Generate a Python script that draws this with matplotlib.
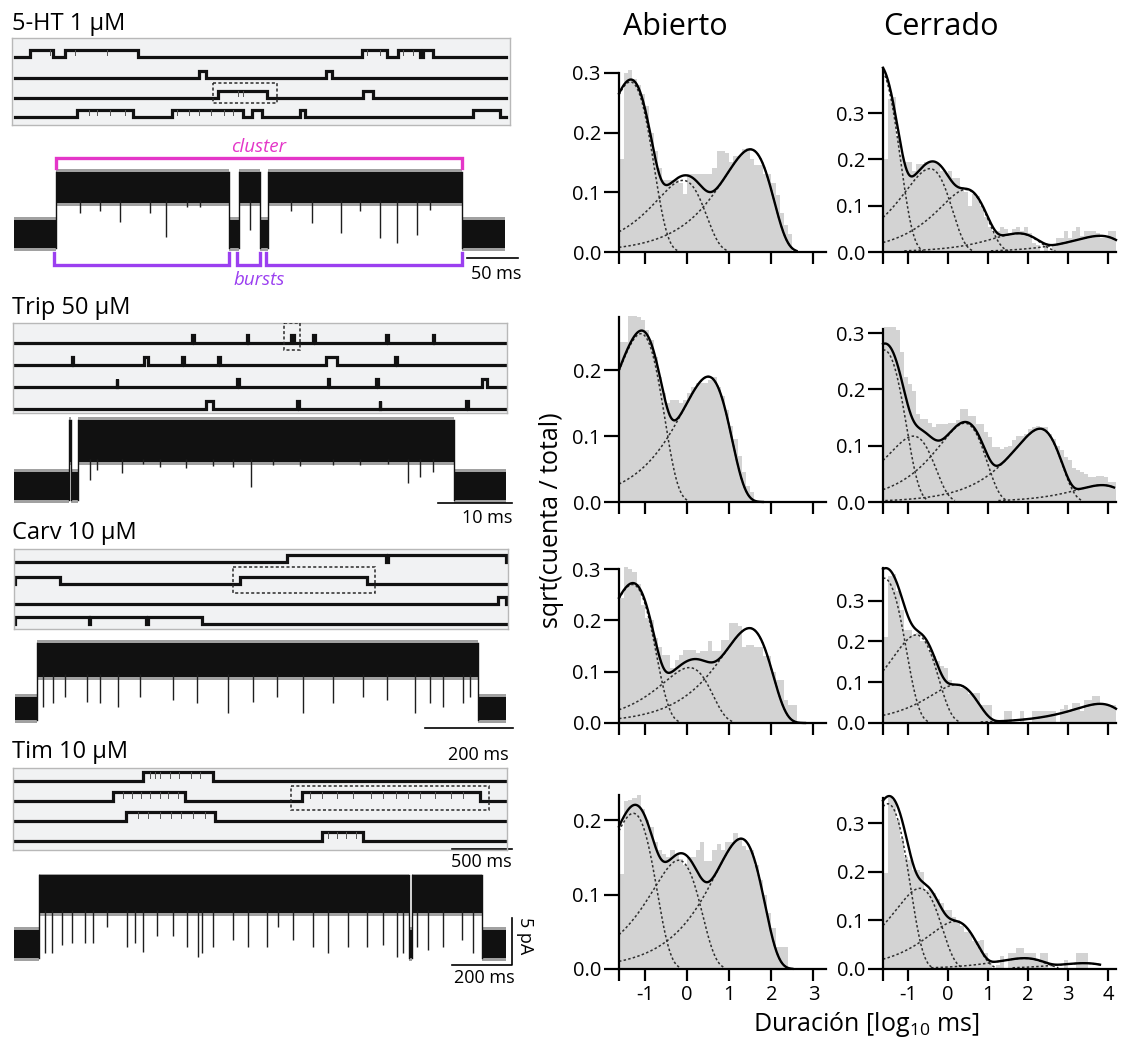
import numpy as np
import matplotlib
matplotlib.use("Agg")
import matplotlib.pyplot as plt
from matplotlib.patches import Rectangle

plt.rcParams["font.family"] = ["Open Sans", "DejaVu Sans"]
plt.rcParams["mathtext.fontset"] = "custom"
plt.rcParams["mathtext.rm"] = "Open Sans"
plt.rcParams["mathtext.it"] = "Open Sans:italic"

# ---------------------------------------------------------------------------
# Dwell-time histograms: sqrt(count / total), 0.1 log10(ms) bins from -1.6
# ---------------------------------------------------------------------------
BIN0 = -1.6
BIN_W = 0.1

open_5ht = [0.155, 0.30, 0.305, 0.29, 0.28, 0.265, 0.245, 0.20, 0.17, 0.14,
            0.12, 0.12, 0.12, 0.12, 0.115, 0.097, 0.13, 0.13, 0.13, 0.13,
            0.13, 0.13, 0.14, 0.17, 0.17, 0.165, 0.15, 0.16, 0.16, 0.172,
            0.175, 0.155, 0.145, 0.145, 0.13, 0.13, 0.115, 0.095, 0.065, 0.045,
            0.03]
closed_5ht = [0.20, 0.33, 0.335, 0.25, 0.21, 0.195, 0.195, 0.175, 0.19, 0.19,
              0.195, 0.195, 0.195, 0.19, 0.175, 0.17, 0.175, 0.16, 0.16, 0.14,
              0.13, 0.10, 0.125, 0.12, 0.10, 0.075, 0.055, 0.04, 0.045, 0.055,
              0.05, 0.04, 0.05, 0.055, 0.045, 0.055, 0.04, 0.02, 0.015, 0.0,
              0.02, 0.0, 0.015, 0.03, 0.03, 0.045, 0.03, 0.045, 0.055, 0.035,
              0.045, 0.045, 0.045, 0.04, 0.03, 0.03, 0.045, 0.045]
open_trip = [0.243, 0.243, 0.282, 0.282, 0.28, 0.276, 0.26, 0.245, 0.22, 0.19,
             0.165, 0.15, 0.155, 0.155, 0.15, 0.155, 0.165, 0.175, 0.18, 0.18,
             0.18, 0.185, 0.19, 0.175, 0.16, 0.14, 0.115, 0.095, 0.07, 0.045,
             0.025, 0.015]
closed_trip = [0.31, 0.31, 0.31, 0.305, 0.266, 0.222, 0.21, 0.198, 0.157, 0.148,
               0.148, 0.14, 0.133, 0.139, 0.139, 0.139, 0.14, 0.14, 0.145, 0.166,
               0.166, 0.152, 0.152, 0.139, 0.139, 0.125, 0.115, 0.098, 0.098, 0.095,
               0.098, 0.10, 0.11, 0.118, 0.118, 0.12, 0.13, 0.133, 0.135, 0.133,
               0.133, 0.12, 0.112, 0.10, 0.092, 0.08, 0.074, 0.06, 0.056, 0.053,
               0.05, 0.044, 0.044, 0.047, 0.047, 0.045, 0.035, 0.035]
open_carv = [0.243, 0.305, 0.30, 0.295, 0.27, 0.23, 0.204, 0.2, 0.165, 0.149,
             0.133, 0.133, 0.107, 0.123, 0.133, 0.143, 0.143, 0.143, 0.136, 0.14,
             0.14, 0.159, 0.14, 0.14, 0.162, 0.162, 0.195, 0.195, 0.19, 0.149,
             0.152, 0.152, 0.149, 0.149, 0.13, 0.13, 0.1, 0.084, 0.084, 0.045,
             0.036, 0.036]
closed_carv = [0.212, 0.36, 0.364, 0.323, 0.278, 0.229, 0.229, 0.216, 0.22, 0.2,
               0.2, 0.18, 0.165, 0.151, 0.139, 0.135, 0.106, 0.09, 0.09, 0.086,
               0.086, 0.07, 0.074, 0.074, 0.045, 0.045, 0.045, 0.0, 0.0, 0.0,
               0.029, 0.029, 0.0, 0.0, 0.029, 0.0, 0.0, 0.029, 0.029, 0.029,
               0.029, 0.029, 0.029, 0.0, 0.035, 0.043, 0.03, 0.049, 0.049, 0.03,
               0.057, 0.057, 0.065, 0.065, 0.045, 0.043, 0.043, 0.043]
open_tim = [0.128, 0.225, 0.227, 0.23, 0.234, 0.215, 0.2, 0.19, 0.17, 0.16,
            0.155, 0.15, 0.16, 0.155, 0.148, 0.14, 0.15, 0.15, 0.16, 0.17,
            0.145, 0.145, 0.16, 0.168, 0.16, 0.17, 0.17, 0.183, 0.175, 0.165,
            0.16, 0.16, 0.14, 0.12, 0.1, 0.075, 0.055, 0.03, 0.03, 0.03]
closed_tim = [0.197, 0.351, 0.348, 0.307, 0.27, 0.23, 0.225, 0.204, 0.204, 0.2,
              0.163, 0.163, 0.156, 0.145, 0.136, 0.122, 0.122, 0.108, 0.1, 0.088,
              0.077, 0.077, 0.057, 0.057, 0.06, 0.033, 0.019, 0.0, 0.009, 0.026,
              0.0, 0.033, 0.033, 0.043, 0.043, 0.033, 0.033, 0.033, 0.019, 0.033,
              0.033, 0.0, 0.0, 0.0, 0.0, 0.019, 0.0, 0.0, 0.033, 0.033,
              0.033, 0.0, 0.0, 0.0, 0.0, 0.0, 0.0, 0.0]

# Fitted exponential components: (log10 tau [ms], peak height on the sqrt scale)
fit_open_5ht = [(-1.35, 0.285), (-0.1, 0.12), (1.5, 0.172)]
fit_closed_5ht = [(-1.75, 0.40), (-0.45, 0.18), (0.45, 0.135), (1.75, 0.04), (3.8, 0.035)]
fit_open_trip = [(-1.1, 0.255), (0.5, 0.19)]
fit_closed_trip = [(-1.6, 0.27), (-0.86, 0.117), (0.42, 0.14), (2.3, 0.13), (3.85, 0.03)]
fit_open_carv = [(-1.3, 0.27), (0.05, 0.108), (1.48, 0.185)]
fit_closed_carv = [(-1.6, 0.355), (-0.79, 0.216), (0.21, 0.094), (3.8, 0.047)]
fit_open_tim = [(-1.28, 0.209), (-0.2, 0.146), (1.28, 0.175)]
fit_closed_tim = [(-1.5, 0.34), (-0.7, 0.166), (0.18, 0.098), (1.9, 0.022), (3.4, 0.012)]

# ---------------------------------------------------------------------------
# Overview sweeps (4 s each): open intervals [s] per sweep
# ---------------------------------------------------------------------------
SWEEP_S = 4.0
ht_sweeps = [[(0.122, 0.31), (0.407, 1.002), (2.827, 3.031), (3.12, 3.30), (3.324, 3.405)],
             [(1.499, 1.556), (2.534, 2.583)],
             [(1.654, 2.053), (2.835, 2.917)],
             [(0.505, 0.961), (1.279, 1.858), (1.931, 2.012), (2.322, 2.363), (3.731, 3.951)]]
trip_sweeps = [[(1.44, 1.46), (1.89, 1.90), (2.25, 2.27), (2.43, 2.44), (3.025, 3.035), (3.405, 3.415)],
               [(0.467, 0.474), (1.048, 1.08), (1.364, 1.376), (1.652, 1.672), (2.53, 2.62), (3.094, 3.114)],
               [(0.827, 0.833), (1.807, 1.827), (2.553, 2.562), (2.939, 2.959), (3.808, 3.842)],
               [(1.56, 1.61), (2.296, 2.316), (2.972, 2.977), (3.673, 3.693)]]
carv_sweeps = [[(2.216, 3.025), (3.04, 4.0)],
               [(0.0, 0.367), (1.833, 2.868)],
               [(3.935, 4.0)],
               [(0.0, 0.605), (0.615, 1.07), (1.08, 1.523)]]
tim_sweeps = [[(1.043, 1.613)],
              [(0.798, 1.385), (2.338, 3.788)],
              [(0.904, 1.629)],
              [(2.501, 2.835)]]
# brief closures inside openings: (sweep, time [s])
ht_sweep_flick = [(0, 0.285), (0, 0.49), (0, 0.75), (0, 2.87), (0, 2.97), (0, 3.16), (0, 3.24),
                  (2, 1.82), (2, 1.86), (3, 0.6), (3, 0.67), (3, 0.77), (3, 0.9),
                  (3, 1.32), (3, 1.42), (3, 1.5), (3, 1.6), (3, 1.7), (3, 1.78)]
tim_sweep_flick = [(0, 1.1), (0, 1.14), (0, 1.18), (0, 1.26), (0, 1.34), (0, 1.43), (0, 1.51),
                   (1, 0.88), (1, 0.95), (1, 1.03), (1, 1.1), (1, 1.18), (1, 1.25), (1, 1.33),
                   (1, 2.4), (1, 2.5), (1, 2.62), (1, 2.75), (1, 2.9), (1, 3.0), (1, 3.1),
                   (1, 3.2), (1, 3.3), (1, 3.42), (1, 3.55), (1, 3.65),
                   (2, 1.0), (2, 1.08), (2, 1.18), (2, 1.27), (2, 1.35), (2, 1.45), (2, 1.55),
                   (3, 2.55), (3, 2.62), (3, 2.7), (3, 2.78)]
# expanded stretch marked on each overview: (sweep, start s, end s)
ht_window = (2, 1.613, 2.134)
trip_window = (0, 2.19, 2.32)
carv_window = (1, 1.776, 2.933)
tim_window = (1, 2.249, 3.862)

# ---------------------------------------------------------------------------
# Expanded traces: duration [ms], open intervals [ms], unitary amplitude [pA],
# brief closures (time [ms], lowest current reached [pA])
# ---------------------------------------------------------------------------
ht_dur = 481.0
ht_open = [(41.0, 211.0), (220.0, 241.0), (249.0, 439.0)]
ht_amp = 4.95
ht_flick_t = [65, 84, 104, 133, 149, 169, 182, 231, 271, 292, 320, 339, 359, 375, 395, 408]
ht_flick_i = [2.2, 2.5, 1.3, 2.2, -0.3, 2.9, 2.9, 0.4, 2.5, 1.2, 0.1, 2.5, -0.4, -1.0, -0.1, 2.6]

trip_dur = 66.5
trip_open = [(7.5, 7.75), (8.65, 59.5)]
trip_amp = 4.8
trip_flick_t = [10.3, 11.2, 14.6, 17.5, 19.7, 23.3, 26.9, 29.6, 32.1, 35.0, 38.6, 43.1,
                46.8, 50.6, 53.3, 54.9, 56.7]
trip_flick_i = [0.64, 1.7, 1.35, 2.3, 2.0, 1.9, 2.1, 2.05, -0.07, 2.2, 2.1, 2.2,
                2.2, 2.3, 0.3, 1.0, 1.5]

carv_dur = 1116.0
carv_open = [(50.0, 1052.0)]
carv_amp = 5.15
carv_flick_t = [64, 87, 114, 163, 193, 235, 284, 360, 413, 485, 542, 595, 655, 723, 792,
                845, 909, 943, 973, 1019, 1034]
carv_flick_i = [0.2, 0.55, 1.25, 0.7, 0.55, 0.2, 1.25, 0.9, 0.55, -0.5, 0.7, 1.25, -0.5,
                0.55, 1.25, 0.9, -0.5, 0.55, 0.2, 0.55, 1.25]

tim_dur = 1640.0
tim_open = [(83.0, 1315.0), (1328.0, 1560.0)]
tim_amp = 5.3
tim_flick_t = [103, 126, 159, 192, 237, 264, 309, 376, 403, 431, 476, 531, 576, 614, 626,
               664, 731, 781, 842, 881, 931, 998, 1048, 1114, 1176, 1231, 1276, 1298,
               1342, 1381, 1431, 1492, 1531]
tim_flick_i = [-1.0, -1.0, -0.1, 0.07, 0.07, 0.07, 1.8, -0.3, 0.07, -0.8, 0.8, 0.8, -0.3,
               -1.35, -1.0, -0.3, 0.4, -0.3, -0.3, 1.8, 0.4, -0.3, -1.0, -0.3, -0.3, -0.1,
               -1.35, -1.0, -0.3, -0.64, -0.3, 0.4, -1.0]

panel_names = ["5-HT 1 \u03bcM", "Trip 50 \u03bcM", "Carv 10 \u03bcM", "Tim 10 \u03bcM"]

# ---------------------------------------------------------------------------
W, H = 1121, 1039
fig = plt.figure(figsize=(W / 100, H / 100), dpi=100)


def px_axes(x0, y0, x1, y1):
    """Axes placed by pixel box (origin top-left)."""
    return fig.add_axes([x0 / W, 1 - y1 / H, (x1 - x0) / W, (y1 - y0) / H])


def step_arrays(opens, dur):
    t, s = [0.0], [0]
    for a, b in opens:
        t += [a, b]
        s += [1, 0]
    t.append(dur)
    s.append(0)
    return np.array(t, float), np.array(s, float)


# ---------------------------- histograms -----------------------------------
XMIN = -1.62
BAR_GREY = "#d3d3d3"


def fit_curves(fit, x):
    comps = []
    for t, h in fit:
        u = 10.0 ** (x - t)
        comps.append(h * np.sqrt(np.e * u * np.exp(-u)))
    total = np.sqrt(np.sum(np.array(comps) ** 2, axis=0))
    return comps, total


def hist_panel(rect, vals, fit, xmax, ytop, yticks, curve_end, xlabels):
    ax = px_axes(*rect)
    edges = BIN0 + BIN_W * np.arange(len(vals))
    ax.bar(edges, vals, width=BIN_W, align="edge", color=BAR_GREY, lw=0,
           clip_on=False, zorder=1)
    x = np.linspace(XMIN, curve_end, 800)
    comps, total = fit_curves(fit, x)
    for c in comps:
        ax.plot(x, np.where(c > 0.0025, c, np.nan), color="#2e2e2e", lw=1.1,
                ls=(0, (1.6, 1.5)), zorder=2, clip_on=False)
    ax.plot(x, total, color="black", lw=1.7, zorder=3, clip_on=False)
    ax.set_xlim(XMIN, xmax)
    ax.set_ylim(0, ytop)
    for s in ("top", "right"):
        ax.spines[s].set_visible(False)
    for s in ("left", "bottom"):
        ax.spines[s].set_linewidth(1.6)
        ax.spines[s].set_zorder(4)
    ax.set_yticks(yticks)
    ax.set_yticklabels([f"{v:.1f}" for v in yticks])
    xt = [XMIN] + list(range(-1, int(xmax) + 1))
    ax.set_xticks(xt)
    if xlabels:
        ax.set_xticklabels([""] + [str(v) for v in range(-1, int(xmax) + 1)])
    else:
        ax.set_xticklabels([])
    ax.tick_params(axis="y", direction="out", length=11, width=1.6, labelsize=14.5, pad=2)
    ax.tick_params(axis="x", direction="out", length=8.5, width=1.6, labelsize=14.5, pad=3)
    ax.set_facecolor("none")
    return ax


open_sets = [(open_5ht, fit_open_5ht), (open_trip, fit_open_trip),
             (open_carv, fit_open_carv), (open_tim, fit_open_tim)]
closed_sets = [(closed_5ht, fit_closed_5ht), (closed_trip, fit_closed_trip),
               (closed_carv, fit_closed_carv), (closed_tim, fit_closed_tim)]

baselines = [252, 502, 723, 969]
open_scale = [(597, 0.30, [0, 0.1, 0.2, 0.3]), (660, 0.28, [0, 0.1, 0.2]),
              (513, 0.30, [0, 0.1, 0.2, 0.3]), (745, 0.233, [0, 0.1, 0.2])]
closed_scale = [(463, 0.397, [0, 0.1, 0.2, 0.3]), (563, 0.307, [0, 0.1, 0.2, 0.3]),
                (408, 0.38, [0, 0.1, 0.2, 0.3]), (486, 0.352, [0, 0.1, 0.2, 0.3])]
open_end = [2.6, 1.8, 2.8, 2.5]
closed_end = [4.2, 4.15, 4.2, 3.8]

for r in range(4):
    b = baselines[r]
    ppu, ytop, yt = open_scale[r]
    hist_panel((619, b - ytop * ppu, 826, b), open_sets[r][0], open_sets[r][1],
               3.3, ytop, yt, open_end[r], r == 3)
    ppu, ytop, yt = closed_scale[r]
    hist_panel((883, b - ytop * ppu, 1116, b), closed_sets[r][0], closed_sets[r][1],
               4.2, ytop, yt, closed_end[r], r == 3)

fig.text(675 / W, 1 - 27 / H, "Abierto", fontsize=22, ha="center", va="center")
fig.text(941 / W, 1 - 27 / H, "Cerrado", fontsize=22, ha="center", va="center")
fig.text(551 / W, 1 - 520 / H, "sqrt(cuenta / total)", fontsize=18, rotation=90,
         ha="center", va="center")
fig.text(866 / W, 1 - 1031 / H, "Duraci\u00f3n [log$_{10}$ ms]", fontsize=18,
         ha="center", va="baseline")

# ---------------------------- overview sweeps ------------------------------
SW_X0, SW_X1 = 15, 506      # pixel span of a 4 s sweep


def sweep_box(box, sweeps, rows_px, amp_px, window, win_ext, flicks=None):
    x0, y0, x1, y1 = box
    ax = px_axes(x0, y0, x1, y1)
    sc = SWEEP_S / (SW_X1 - SW_X0)
    ax.set_xlim((x0 - SW_X0) * sc, (x1 - SW_X0) * sc)
    ax.set_ylim(y1 - y0, 0)
    ax.set_facecolor("#f1f2f3")
    for sp in ax.spines.values():
        sp.set_color("#b8b8b8")
        sp.set_linewidth(1.0)
    ax.set_xticks([])
    ax.set_yticks([])
    for r, opens in enumerate(sweeps):
        t, s = step_arrays(opens, SWEEP_S)
        ax.plot(t, rows_px[r] - amp_px * s, drawstyle="steps-post", color="#111111",
                lw=2.3, solid_joinstyle="miter")
    if flicks:
        for r, tf in flicks:
            base = rows_px[r]
            ax.plot([tf, tf], [base - amp_px, base - 0.35 * amp_px], color="#555555", lw=0.7)
    r, ta, tb = window
    up, down = win_ext
    ax.add_patch(Rectangle((ta, rows_px[r] - up), tb - ta, up + down, fill=False,
                           ec="#2a2a2a", lw=1.1, ls=(0, (2, 1.5)), zorder=5))
    return ax


sweep_box((12, 38, 510, 125), ht_sweeps, [19, 40, 60, 79], 7, ht_window, (15, 5),
          ht_sweep_flick)
sweep_box((13, 323, 507, 413), trip_sweeps, [20, 42, 64, 86], 8, trip_window, (20, 7))
sweep_box((14, 549, 508, 629), carv_sweeps, [13, 35, 55, 75], 7, carv_window, (17, 9))
ax_tim_sw = sweep_box((13, 768, 507, 850), tim_sweeps, [13, 33, 53, 73], 9, tim_window,
                      (15, 9), tim_sweep_flick)
# 500 ms scale bar under the last overview
ax_tim_sw.plot([3.56, 4.05], [81, 81], color="black", lw=1.2, clip_on=False)
ax_tim_sw.text(3.80, 94, "500 ms", ha="center", va="center", fontsize=13, clip_on=False)

# ---------------------------- expanded traces ------------------------------
PX_PER_PA = 9.4


def trace_axes(x0, x1, dur, c_px, ylo=-2.5, yhi=7.5):
    ax = px_axes(x0, c_px - yhi * PX_PER_PA, x1, c_px - ylo * PX_PER_PA)
    ax.set_xlim(0, dur)
    ax.set_ylim(ylo, yhi)
    ax.axis("off")
    return ax


def draw_trace(ax, opens, dur, amp, half_c, half_o, ft, fi):
    t, s = step_arrays(opens, dur)
    lvl = amp * s
    half = np.where(s > 0, half_o, half_c)
    # fringe of the noise band, then its dense core
    ax.fill_between(t, lvl - half - 0.35, lvl + half + 0.35, step="post",
                    color="#555555", lw=0, alpha=0.55)
    ax.fill_between(t, lvl - half, lvl + half, step="post", color="#111111", lw=0)
    for a, b in opens:
        ax.plot([a, a], [-half_c, amp + half_o], color="#111111", lw=1.0)
        ax.plot([b, b], [-half_c, amp + half_o], color="#111111", lw=1.0)
    ax.vlines(ft, fi, amp - half_o + 0.3, color="#1e1e1e", lw=1.0)


ax1 = trace_axes(14, 505, ht_dur, 234)
draw_trace(ax1, ht_open, ht_dur, ht_amp, 1.5, 1.65, ht_flick_t, ht_flick_i)
ax2 = trace_axes(14, 506, trip_dur, 486)
draw_trace(ax2, trip_open, trip_dur, trip_amp, 1.5, 2.2, trip_flick_t, trip_flick_i)
ax3 = trace_axes(15, 506, carv_dur, 708.5)
draw_trace(ax3, carv_open, carv_dur, carv_amp, 1.2, 1.8, carv_flick_t, carv_flick_i)
ax4 = trace_axes(14, 506, tim_dur, 944)
draw_trace(ax4, tim_open, tim_dur, tim_amp, 1.5, 2.0, tim_flick_t, tim_flick_i)

# cluster / burst brackets on the 5-HT trace
MAGENTA = "#e436c8"
PURPLE = "#9b3ff0"
c0, c1 = ht_open[0][0], ht_open[-1][1]
ax1.plot([c0, c0, c1, c1], [7.0, 8.1, 8.1, 7.0], color=MAGENTA, lw=2.4, clip_on=False,
         solid_joinstyle="miter")
ax1.text((c0 + c1) / 2, 9.3, "cluster", color=MAGENTA, style="italic", fontsize=13.5,
         ha="center", va="center", clip_on=False)
for a, b in ht_open:
    ax1.plot([a - 2, a - 2, b, b], [-2.0, -3.3, -3.3, -2.0], color=PURPLE, lw=2.4,
             clip_on=False, solid_joinstyle="miter")
ax1.text((c0 + c1) / 2, -4.9, "bursts", color=PURPLE, style="italic", fontsize=13.5,
         ha="center", va="center", clip_on=False)

# scale bars
ax1.plot([444, 494], [-2.55, -2.55], color="black", lw=1.2, clip_on=False)
ax1.text(472, -4.3, "50 ms", ha="center", va="center", fontsize=13, clip_on=False)
ax2.plot([57.3, 67.3], [-1.8, -1.8], color="black", lw=1.2, clip_on=False)
ax2.text(64.0, -3.4, "10 ms", ha="center", va="center", fontsize=13, clip_on=False)
ax3.plot([932, 1132], [-2.07, -2.07], color="black", lw=1.2, clip_on=False)
ax3.text(1052, -4.95, "200 ms", ha="center", va="center", fontsize=13, clip_on=False)
ax4.plot([1460, 1660, 1660], [-2.23, -2.23, 2.77], color="black", lw=1.2, clip_on=False)
ax4.text(1567, -3.6, "200 ms", ha="center", va="center", fontsize=13, clip_on=False)
ax4.text(1702, 0.9, "5 pA", rotation=-90, ha="center", va="center", fontsize=13,
         clip_on=False)

# panel titles
for name, yb in zip(panel_names, [30, 314, 539, 758]):
    fig.text(12 / W, 1 - yb / H, name, fontsize=17, ha="left", va="baseline")

fig.savefig("out.png", dpi=100)
